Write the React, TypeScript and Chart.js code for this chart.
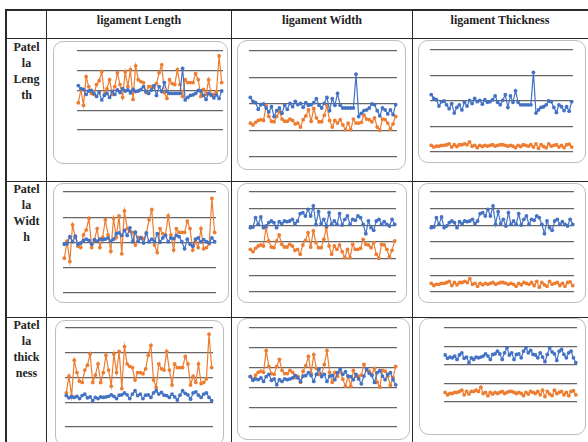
import React, { useEffect, useRef } from "react";
import { Chart, registerables } from "chart.js";

Chart.register(...registerables);

// ---- data (mm), 56 specimens ----
const samples = [
  "1","2","3","4","5","6","7","8","9","10","11","12","13","14","15","16","17","18","19","20",
  "21","22","23","24","25","26","27","28","29","30","31","32","33","34","35","36","37","38","39","40",
  "41","42","43","44","45","46","47","48","49","50","51","52","53","54","55","56",
];

const patellaLength = [
  45, 42, 41, 36, 39.5, 40, 37, 34, 38, 30.5, 35, 37, 33, 39, 36, 40.5, 38, 42, 39.5, 40.5,
  37.5, 41, 39, 39.5, 41, 44, 39, 37, 40.5, 45, 35, 44, 39, 48, 39, 37, 37, 37, 37, 37,
  62.5, 30.5, 33, 35, 35.5, 37, 40, 39.5, 35, 31, 37, 35.5, 32.5, 35.5, 32, 39.5,
];

const patellaWidth = [
  38.6, 39, 44.6, 40.6, 45, 38.6, 39.6, 41.6, 42.6, 41.6, 38.6, 42.2, 41, 42.6, 42.2, 42.6, 43.6, 41, 42.6, 47,
  47.6, 45.6, 49.6, 45.6, 51.6, 40.6, 48.2, 41, 43.6, 39.6, 47.6, 40.6, 42.6, 40.6, 47, 40.2, 43.6, 45.6, 40.6, 43.6,
  43, 45.6, 44.6, 40.6, 35, 42.6, 38.6, 37, 42.6, 43.6, 40.6, 42.2, 40.6, 39.6, 43.6, 40.6,
];

const patellaThickness = [
  25.4, 23.6, 24.3, 23.9, 24.8, 23, 25.4, 26.6, 23.6, 24.3, 21.3, 23.9, 23, 24.3, 23.9, 24.3, 24.8, 26, 24.8, 23,
  25.7, 26, 27.5, 26, 23, 26.6, 29.3, 25.4, 26.6, 23, 25.7, 26, 23.9, 27.5, 29.3, 26.6, 27.9, 25.7, 25.4, 23.9,
  26.6, 24.3, 21.8, 25.7, 29.3, 27.1, 26, 22.5, 27.5, 28.4, 25.7, 23.9, 26.6, 27.5, 23.9, 21.3,
];

const ligamentLength = [
  27.6, 41, 25, 54, 44, 37, 36, 46, 50, 59, 36, 42, 51, 36, 44, 58, 46, 33, 59, 44,
  61, 31, 65, 51, 49, 48, 38, 44, 44, 43, 47, 58, 66, 38, 32, 51, 47, 46, 61, 46,
  34, 51, 48, 48, 48, 57, 51, 34, 41, 36, 51, 35, 36, 39, 75, 48,
];

const ligamentWidth = [
  25.6, 24.2, 26.2, 27.6, 28.2, 27.6, 38.6, 30.6, 27, 26.6, 30.6, 34.2, 28.6, 27, 27, 28.6, 27.6, 25, 25.6, 22.6,
  28.2, 31, 35.6, 27, 36.6, 29.6, 26.6, 26.6, 31.6, 38.6, 27.6, 22.6, 27.6, 25.6, 28.2, 24.2, 20.6, 25.6, 20.6, 28.6,
  25.6, 25.6, 26.2, 31.6, 28.6, 28.2, 26.6, 29.6, 22.6, 20.2, 28.6, 28.2, 25.6, 21, 25, 30.6,
];

const ligamentThickness = [
  5.2, 3.9, 4.6, 4.6, 5.2, 5.2, 5.7, 6.4, 3.9, 5.7, 4.3, 5.7, 5.7, 6.4, 5.7, 8, 4.6, 5.2, 3.4, 5.2,
  4.3, 5.2, 4.6, 5.2, 5.7, 4.6, 5.2, 5.7, 5.7, 5.2, 4.6, 5.2, 4.6, 3.4, 5.2, 4.3, 5.7, 5.2, 4.6, 5.7,
  3.9, 6.4, 2.9, 5.7, 4.3, 3.4, 6.4, 4.6, 5.2, 5.7, 3.9, 5.2, 3.4, 5.7, 6.1, 3.9,
];

const columnTitles = ["ligament Length", "ligament Width", "ligament Thickness"];
const rowTitles = [
  ["Patel", "la", "Leng", "th"],
  ["Patel", "la", "Widt", "h"],
  ["Patel", "la", "thick", "ness"],
];

// axis maxima / steps for each cell [row][col]
const axisMax = [
  [80, 80, 80],
  [80, 60, 60],
  [80, 50, 40],
];
const axisStep = [
  [20, 20, 20],
  [20, 10, 10],
  [20, 10, 10],
];

// ---- layout (page px) ----
// plot area: [x1, y1, x2, y2]
const plotAreas = [
  [[77, 51, 223, 130], [249, 51, 397, 157], [430, 50, 573, 152]],
  [[63, 192, 216, 293], [249, 192, 396, 292], [430, 192, 574, 292]],
  [[65, 328, 213, 427], [249, 328, 397, 427], [444, 328, 577, 402]],
];
// rounded panels: [x1, y1, x2, y2]
const panels = [
  [[53, 41, 228, 164], [237, 40, 406, 170], [418, 40, 586, 163]],
  [[53, 183, 229, 303], [237, 183, 407, 303], [418, 183, 586, 303]],
  [[55, 320, 224, 446], [237, 318, 410, 440], [419, 318, 586, 435]],
];

const BLUE = "#4472C4";
const ORANGE = "#ED7D31";

function Mini(props: { blue: number[]; orange: number[]; max: number; step: number; area: number[] }) {
  const ref = useRef<HTMLCanvasElement>(null);
  const pad = 5;
  const [x1, y1, x2, y2] = props.area;
  const w = x2 - x1 + 2 * pad;
  const h = y2 - y1 + 2 * pad;
  useEffect(() => {
    if (!ref.current) return;
    const mk = (data: number[], color: string) => ({
      data,
      borderColor: color,
      backgroundColor: color,
      borderWidth: 1.2,
      pointRadius: 1.9,
      pointBorderWidth: 0,
      pointBackgroundColor: color,
      tension: 0,
      clip: false as any,
    });
    const chart = new Chart(ref.current, {
      type: "line",
      data: {
        labels: samples,
        datasets: [mk(props.blue, BLUE), mk(props.orange, ORANGE)],
      },
      options: {
        animation: false,
        responsive: false,
        events: [],
        layout: { padding: pad },
        plugins: { legend: { display: false }, tooltip: { enabled: false } },
        scales: {
          x: { display: false, offset: true },
          y: {
            min: 0,
            max: props.max,
            ticks: { display: false, stepSize: props.step },
            grid: { color: "#666666", lineWidth: 1.3, drawTicks: false },
            border: { display: false },
          },
        },
      },
    });
    return () => chart.destroy();
  }, []);
  return (
    <canvas
      ref={ref}
      width={w}
      height={h}
      style={{ position: "absolute", left: x1 - pad, top: y1 - pad, width: w, height: h }}
    />
  );
}

const lineColor = "#2a2a2a";

function HLine(p: { x: number; y: number; w: number; t?: number }) {
  return (
    <div style={{ position: "absolute", left: p.x, top: p.y, width: p.w, height: p.t ?? 1, background: lineColor }} />
  );
}
function VLine(p: { x: number; y: number; h: number; t?: number }) {
  return (
    <div style={{ position: "absolute", left: p.x, top: p.y, width: p.t ?? 1, height: p.h, background: lineColor }} />
  );
}

export default function App() {
  const rowSeries = [patellaLength, patellaWidth, patellaThickness];
  const colSeries = [ligamentLength, ligamentWidth, ligamentThickness];
  const colCenters = [139, 322, 500];
  const rowLabelTop = [39, 181, 317];
  const font = '"Liberation Serif", "Times New Roman", serif';

  return (
    <div
      style={{
        position: "absolute",
        left: 0,
        top: 0,
        width: 588,
        height: 442,
        overflow: "hidden",
        background: "#fff",
        fontFamily: font,
      }}
    >
      {/* table lines */}
      <HLine x={5} y={9} w={583} t={2} />
      <VLine x={5} y={9} h={433} t={2} />
      <VLine x={46} y={10} h={432} />
      <VLine x={231} y={10} h={432} />
      <VLine x={412} y={10} h={432} />
      <HLine x={6} y={38} w={582} />
      <HLine x={6} y={181} w={582} />
      <HLine x={6} y={317} w={582} />

      {/* column headers */}
      {columnTitles.map((t, i) => (
        <div
          key={t}
          style={{
            position: "absolute",
            left: colCenters[i] - 90,
            width: 180,
            top: 13,
            textAlign: "center",
            fontWeight: "bold",
            fontSize: 12,
            lineHeight: "14px",
            color: "#222",
          }}
        >
          {t}
        </div>
      ))}

      {/* row headers */}
      {rowTitles.map((lines, r) => (
        <div
          key={r}
          style={{
            position: "absolute",
            left: 7,
            width: 39,
            top: rowLabelTop[r],
            textAlign: "center",
            fontWeight: "bold",
            fontSize: 12,
            lineHeight: "16px",
            color: "#222",
          }}
        >
          {lines.map((l, k) => (
            <div key={k}>{l}</div>
          ))}
        </div>
      ))}

      {/* panels + charts */}
      {panels.map((row, r) =>
        row.map((p, c) => (
          <div
            key={`p${r}${c}`}
            style={{
              position: "absolute",
              left: p[0],
              top: p[1],
              width: p[2] - p[0],
              height: p[3] - p[1],
              border: "1px solid #bdbdbd",
              borderRadius: 10,
              boxSizing: "border-box",
              background: "#fff",
            }}
          />
        ))
      )}
      {plotAreas.map((row, r) =>
        row.map((a, c) => (
          <Mini
            key={`c${r}${c}`}
            blue={rowSeries[r]}
            orange={colSeries[c]}
            max={axisMax[r][c]}
            step={axisStep[r][c]}
            area={a}
          />
        ))
      )}
    </div>
  );
}
